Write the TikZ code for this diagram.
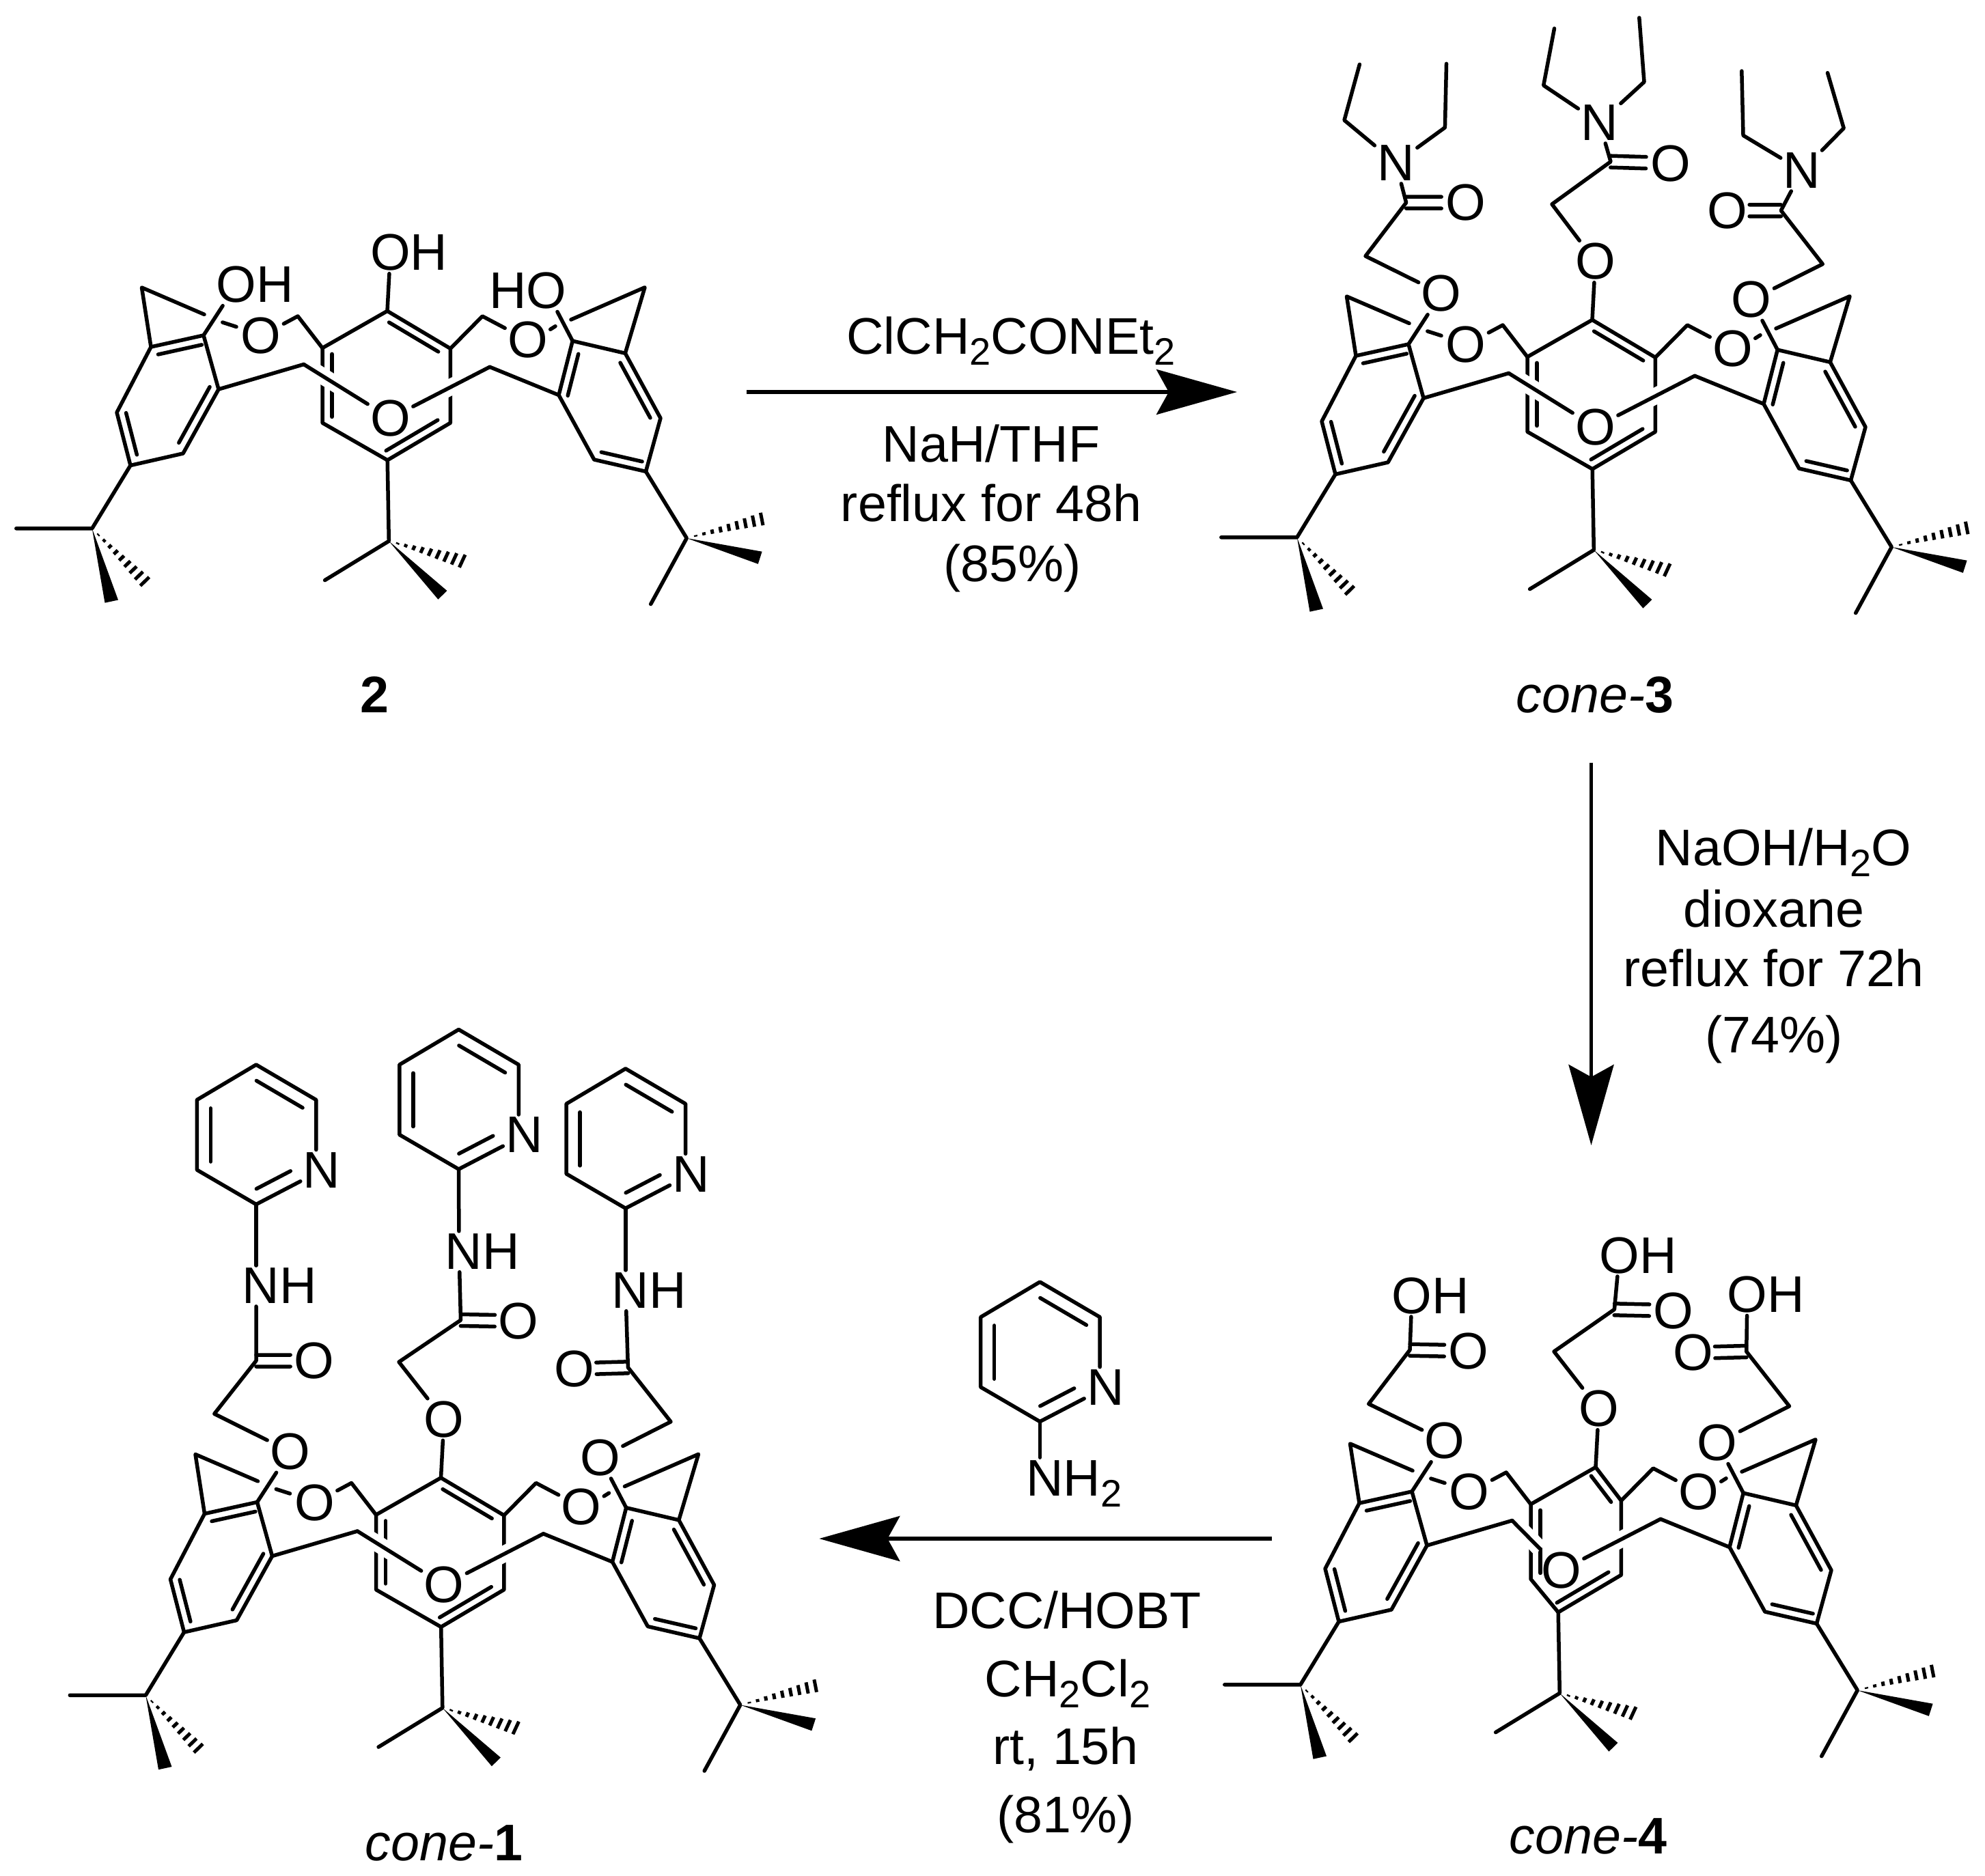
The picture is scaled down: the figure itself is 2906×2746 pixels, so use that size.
\documentclass[tikz,border=0pt]{standalone}
\usepackage{fontspec}
\setmainfont{Liberation Sans}
\usetikzlibrary{arrows.meta,calc}

\newcommand{\subs}[1]{\raisebox{-8.3pt}{\fontsize{28}{28}\selectfont #1}}
\newcommand{\inbond}[5]{\draw[bond] ($(#1)!#3!(#2)!#5!-90:(#2)$)--($(#1)!#4!(#2)!#5!-90:(#2)$);}
\newcommand{\dblbond}[2]{%
  \draw[bond] ($(#1)!4.25pt!90:(#2)$)--($(#1)!.59!(#2)!4.25pt!90:(#2)$);
  \draw[bond] ($(#1)!4.25pt!-90:(#2)$)--($(#1)!.59!(#2)!4.25pt!-90:(#2)$);}
\newcommand{\wedgebond}[3]{\fill (#1)--(#2)--(#3)--cycle;}
\newcommand{\hashbond}[3]{%
  \foreach \k in {.12,.23,.34,.45,.56,.67,.78,.89,1}
    \draw[hashline] ($(#1)!\k!(#2)$)--($(#1)!\k!(#3)$);}

% one calixarene: left half shift, right half shift, top oxygen labels
\newcommand{\calix}[8]{%
  \begin{scope}[shift={(#2,#3)}]
    \coordinate (#1a1) at (221,508);
    \coordinate (#1a2) at (298,491);
    \coordinate (#1a3) at (320,570);
    \coordinate (#1a4) at (268,664);
    \coordinate (#1a5) at (191,681.5);
    \coordinate (#1a6) at (171,604);
    \coordinate (#1ap) at (207.5,421);
    \coordinate (#1ae) at (299,460.4);
    \coordinate (#1s1) at (325.8,472);
    \coordinate (#1s2) at (346,478.5);
    \coordinate (#1hl) at (436,463);
    \coordinate (#1bl) at (444.7,533.5);
    \coordinate (#1b1) at (567,455.4);
    \coordinate (#1b5) at (472,619.2);
    \coordinate (#1b6) at (472,509.6);
    \coordinate (#1t1) at (134.8,773.8);
    \coordinate (#1q1) at (23.8,773.8);
    \coordinate (#1w1) at (153.5,882.7);
    \coordinate (#1w2) at (173,878.5);
    \coordinate (#1d1) at (205.4,857.7);
    \coordinate (#1d2) at (218.4,845);
    \node[atom] (#1ol) at (346,417) {#6};
    \node[atom] (#1om) at (571.5,370) {#7};
    \node[atom] (#1l) at (382,492) {O};
  \end{scope}
  \begin{scope}[shift={(#4,#5)}]
    \coordinate (#1c1) at (915.3,517.3);
    \coordinate (#1c2) at (838.2,499.2);
    \coordinate (#1c3) at (818,578.5);
    \coordinate (#1c4) at (869.8,673);
    \coordinate (#1c5) at (945.5,690.4);
    \coordinate (#1c6) at (967,612.3);
    \coordinate (#1aq) at (944,420.8);
    \coordinate (#1af) at (836,468);
    \coordinate (#1s3) at (805.7,482.3);
    \coordinate (#1s4) at (813,477.7);
    \coordinate (#1hr) at (706.2,463);
    \coordinate (#1br) at (717,537.3);
    \coordinate (#1b2) at (659.4,510.4);
    \coordinate (#1b3) at (659.4,619.2);
    \coordinate (#1b4) at (567.2,673.8);
    \coordinate (#1t2) at (569.3,792.3);
    \coordinate (#1q2) at (475.6,849.6);
    \coordinate (#1w3) at (641.4,877.7);
    \coordinate (#1w4) at (654.4,865);
    \coordinate (#1d3) at (681,812.3);
    \coordinate (#1d4) at (672.4,830.8);
    \coordinate (#1t3) at (1005.3,788);
    \coordinate (#1q3) at (952.7,884.6);
    \coordinate (#1w5) at (1115.6,807.7);
    \coordinate (#1w6) at (1109.8,825.8);
    \coordinate (#1d5) at (1113.4,750.8);
    \coordinate (#1d6) at (1117,769.2);
    \node[atom] (#1or) at (800,425.8) {#8};
    \node[atom] (#1r) at (772.5,498) {O};
    \node[atom] (#1oc) at (571.5,612.3) {O};
  \end{scope}
  % rings
  \draw[bond] (#1a1)--(#1a2)--(#1a3)--(#1a4)--(#1a5)--(#1a6)--cycle;
  \draw[bond] (#1c1)--(#1c6)--(#1c5)--(#1c4)--(#1c3)--(#1c2)--cycle;
  \draw[bond] (#1b1)--(#1b2)--(#1b3)--(#1b4)--(#1b5)--(#1b6)--cycle;
  \inbond{#1a1}{#1a2}{.1}{.93}{6.5pt}
  \inbond{#1a3}{#1a4}{.03}{.9}{6.5pt}
  \inbond{#1a5}{#1a6}{.16}{.95}{6.5pt}
  \inbond{#1c1}{#1c6}{.08}{.93}{6.5pt}
  \inbond{#1c5}{#1c4}{.11}{.9}{6.5pt}
  \inbond{#1c3}{#1c2}{.03}{.8}{6.5pt}
  \inbond{#1b1}{#1b2}{.1}{.88}{6.5pt}
  \inbond{#1b3}{#1b4}{.13}{.95}{6.5pt}
  \inbond{#1b5}{#1b6}{.08}{.92}{7pt}
  % bridges
  \draw[bond,halo] (#1bl)--(#1oc);
  \draw[bond,halo] (#1br)--(#1oc);
  \draw[bond] (#1a3)--(#1bl);
  \draw[bond] (#1c3)--(#1br);
  \draw[bond] (#1l)--(#1hl)--(#1b6);
  \draw[bond] (#1r)--(#1hr)--(#1b2);
  \draw[bond] (#1ae)--(#1ap)--(#1a1);
  \draw[bond] (#1af)--(#1aq)--(#1c1);
  \draw[bond] (#1s1)--(#1s2);
  \draw[bond] (#1s3)--(#1s4);
  \draw[bond] (#1a2)--(#1ol);
  \draw[bond] (#1b1)--(#1om);
  \draw[bond] (#1c2)--(#1or);
  % tert-butyl groups
  \draw[bond] (#1a5)--(#1t1)--(#1q1);
  \wedgebond{#1t1}{#1w1}{#1w2}
  \hashbond{#1t1}{#1d1}{#1d2}
  \draw[bond] (#1b4)--(#1t2)--(#1q2);
  \wedgebond{#1t2}{#1w3}{#1w4}
  \hashbond{#1t2}{#1d3}{#1d4}
  \draw[bond] (#1c5)--(#1t3)--(#1q3);
  \wedgebond{#1t3}{#1w5}{#1w6}
  \hashbond{#1t3}{#1d5}{#1d6}
}

% arm: O-CH2-C(=O)-X
\newcommand{\arm}[7]{%
  \coordinate (#2h) at (#3);
  \coordinate (#2c) at (#4);
  \node[atom] (#2o) at (#5) {O};
  \node[atom] (#2x) at (#6) {#7};
  \draw[bond] (#1)--(#2h)--(#2c)--(#2x);
  \dblbond{#2c}{#2o}
}
\newcommand{\ethyls}[5]{%
  \coordinate (#1e1) at (#2);
  \coordinate (#1e2) at (#3);
  \coordinate (#1e3) at (#4);
  \coordinate (#1e4) at (#5);
  \draw[bond] (#1x)--(#1e1)--(#1e2);
  \draw[bond] (#1x)--(#1e3)--(#1e4);
}
\newcommand{\pyr}[3]{%
  \begin{scope}[shift={(#2,#3)}]
    \coordinate (#1p1) at (0,0);
    \coordinate (#1p2) at (-86.7,-50.5);
    \coordinate (#1p3) at (-86.7,-153);
    \coordinate (#1p4) at (0,-204.5);
    \coordinate (#1p5) at (87.8,-153);
    \node[atom] (#1n) at (96,-50) {N};
  \end{scope}
  \draw[bond] (#1n.north -| #1p5)--(#1p5)--(#1p4)--(#1p3)--(#1p2)--(#1p1)--(#1n);
  \inbond{#1p2}{#1p3}{.117}{.88}{10pt}
  \inbond{#1p4}{#1p5}{.12}{.89}{10pt}
  \inbond{#1n}{#1p1}{.38}{.9}{10pt}
}

\begin{document}
\begin{tikzpicture}[x=.5pt, y=-.5pt,
  bond/.style={line width=2.75pt, line cap=round, line join=round},
  halo/.style={preaction={draw=white, line width=12pt, line cap=butt}},
  hashline/.style={line width=2.5pt},
  atom/.style={font=\fontsize{37.7}{37.7}\selectfont, inner sep=2pt, outer sep=0pt},
  cond/.style={font=\fontsize{37.7}{37.7}\selectfont, anchor=base, inner sep=0pt},
  rxn/.style={line width=2.75pt, -{Stealth[length=59pt, width=33pt, inset=9pt]}}]
  \useasboundingbox (0,0) rectangle (2906,2746);

  % compound 2
  \calix{ma}{0}{0}{0}{0}{O\rlap{H}}{O\rlap{H}}{\llap{H}O}
  \node[cond] (lab2) at (548.5,1043) {\bfseries 2};

  % cone-3
  \calix{mc}{1764}{13}{1764}{13}{O}{O}{O}
  \arm{mcol}{mcu}{1999,375}{2058.6,296.7}{2146,296.7}{2043.6,239}{N}
  \ethyls{mcu}{1968,176}{1990.4,94.3}{2115.4,186.7}{2117.5,93.3}
  \arm{mcom}{mcv}{2272,299}{2358,236.7}{2445.7,239.3}{2341.6,180}{N}
  \ethyls{mcv}{2259.7,125}{2275.5,41.7}{2407,120}{2399.8,26}
  \arm{mcor}{mcw}{2668.3,386.7}{2607.3,308.3}{2529,308.3}{2638,250}{N}
  \ethyls{mcw}{2552,198.3}{2549.8,104}{2699.2,187.7}{2675.5,106.7}
  \node[cond] (lab3) at (2335,1043) {\itshape cone-{\upshape\bfseries 3}};

  % cone-4
  \calix{md}{1769}{1693}{1714}{1687}{O}{O}{O}
  \arm{mdol}{mdu}{2003.7,2055.7}{2064,1976.7}{2149.4,1978.3}{2067,1897.3}{O\rlap{H}}
  \arm{mdom}{mdv}{2275,1979}{2363.4,1917.3}{2450,1919.3}{2370.7,1838.3}{O\rlap{H}}
  \arm{mdor}{mdw}{2619.5,2059}{2556.7,1979}{2478.7,1981}{2558,1895.7}{O\rlap{H}}
  \node[cond] (lab4) at (2325,2714) {\itshape cone-{\upshape\bfseries 4}};

  % cone-1
  \calix{mb}{78.5}{1708.5}{78.5}{1708.5}{O}{O}{O}
  \arm{mbol}{mbu}{313.8,2070.2}{375,1992.5}{460,1992.5}{375,1883}{\kern7pt N\rlap{H}}
  \pyr{mbu}{375}{1763.5}
  \draw[bond] (mbux)--(mbup1);
  \arm{mbom}{mbv}{584,1994.3}{674.5,1933}{759,1934.5}{672,1832.7}{\kern7pt N\rlap{H}}
  \pyr{mbv}{671.5}{1712}
  \draw[bond] (mbvx)--(mbvp1);
  \arm{mbor}{mbw}{982,2081.8}{919.4,2002.3}{840.8,2004.5}{915.8,1889.8}{\kern7pt N\rlap{H}}
  \pyr{mbw}{915.8}{1769.3}
  \draw[bond] (mbwx)--(mbwp1);
  \node[cond] (lab1) at (650,2724) {\itshape cone-{\upshape\bfseries 1}};

  % reaction arrows
  \coordinate (top1) at (1093,574);
  \coordinate (top2) at (1811,574);
  \draw[rxn] (top1)--(top2);
  \node[cond] (c1) at (1480,518) {ClCH\subs{2}CONEt\subs{2}};
  \node[cond] (c2) at (1451,676.7) {NaH/THF};
  \node[cond] (c3) at (1451,763) {reflux for 48h};
  \node[cond] (c4) at (1481.7,851.7) {(85\%)};

  \coordinate (mid1) at (2329.5,1116.7);
  \coordinate (mid2) at (2329.5,1677);
  \draw[rxn] (mid1)--(mid2);
  \node[cond] (c5) at (2611,1267) {NaOH/H\subs{2}O};
  \node[cond] (c6) at (2597,1357.6) {dioxane};
  \node[cond] (c7) at (2596.5,1444.5) {reflux for 72h};
  \node[cond] (c8) at (2597,1541) {(74\%)};

  \coordinate (low1) at (1862.3,2253);
  \coordinate (low2) at (1199.3,2253);
  \draw[rxn] (low1)--(low2);
  \node[cond] (c9) at (1562,2384.6) {DCC/HOBT};
  \node[cond] (c10) at (1563,2484) {CH\subs{2}Cl\subs{2}};
  \node[cond] (c11) at (1560,2583) {rt, 15h};
  \node[cond] (c12) at (1560,2683) {(81\%)};

  % aminopyridine
  \pyr{re}{1522.4}{2081.6}
  \node[atom] (reN) at (1522.4,2172.4) {\kern7pt N\rlap{H\subs{2}}};
  \draw[bond] (rep1)--(reN);
\end{tikzpicture}
\end{document}
